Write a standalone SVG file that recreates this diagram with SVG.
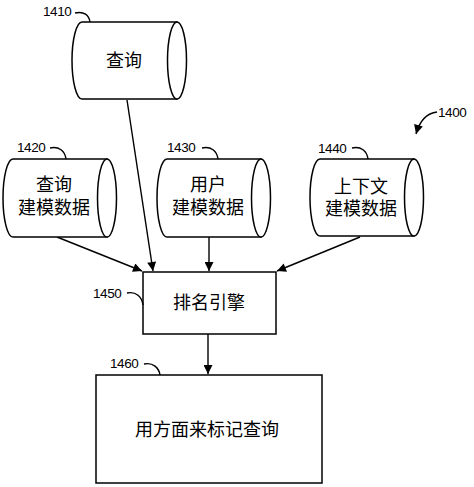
<svg xmlns="http://www.w3.org/2000/svg" width="474" height="487" viewBox="0 0 474 487">
<defs>
<style>
.s{fill:#fff;stroke:#000;stroke-width:1.5}
.l{fill:none;stroke:#000;stroke-width:1.4}
.c{fill:none;stroke:#000;stroke-width:1.4;marker-end:url(#ah)}
.n{font-family:"Liberation Sans",Arial,sans-serif;font-size:13.5px;fill:#000;letter-spacing:-0.4px}
.t{font-family:"Noto Sans CJK SC","Noto Sans",sans-serif;font-size:18px;fill:#000;text-anchor:middle}
</style>
<marker id="ah" viewBox="0 0 10 10" refX="10" refY="5" markerWidth="10" markerHeight="9" markerUnits="userSpaceOnUse" orient="auto">
<path d="M0,0 L10,5 L0,10 z" fill="#000"/>
</marker>
</defs>
<rect width="474" height="487" fill="#fff"/>
<g id="connectors">
<path class="c" d="M127,100 L153,271"/>
<path class="c" d="M57,237 L142,271"/>
<path class="c" d="M209,237 L209,271"/>
<path class="c" d="M360,237 L277,271"/>
<path class="c" d="M208,334 L208,374"/>
<path class="c" d="M437,112 C428,113 420,120 416,134"/>
</g>
<g id="n1410">
<path class="s" d="M82,22 L177,22 L177,99 L82,99 A10,38.5 0 0 1 82,22 Z"/>
<ellipse class="s" cx="177" cy="60.5" rx="9.5" ry="38.5"/>
<text class="t" x="124" y="67">查询</text>
<text class="n" x="43" y="16">1410</text>
<path class="l" d="M75,13 C84,11 89,15 90,22"/>
</g>
<g id="n1420">
<path class="s" d="M13,159 L107,159 L107,237 L13,237 A10,39 0 0 1 13,159 Z"/>
<ellipse class="s" cx="107" cy="198" rx="9.5" ry="39"/>
<text class="t" x="54" y="191">查询</text>
<text class="t" x="54" y="214">建模数据</text>
<text class="n" x="17" y="152">1420</text>
<path class="l" d="M50,148 C59,146 65,151 66,159"/>
</g>
<g id="n1430">
<path class="s" d="M167,159 L261,159 L261,237 L167,237 A10,39 0 0 1 167,159 Z"/>
<ellipse class="s" cx="261" cy="198" rx="9.5" ry="39"/>
<text class="t" x="208" y="191">用户</text>
<text class="t" x="208" y="214">建模数据</text>
<text class="n" x="167" y="152">1430</text>
<path class="l" d="M202,148 C211,146 217,151 218,159"/>
</g>
<g id="n1440">
<path class="s" d="M320,159 L414,159 L414,236 L320,236 A10,38.5 0 0 1 320,159 Z"/>
<ellipse class="s" cx="414" cy="197.5" rx="9.5" ry="38.5"/>
<text class="t" x="361" y="193">上下文</text>
<text class="t" x="361" y="215">建模数据</text>
<text class="n" x="318" y="153">1440</text>
<path class="l" d="M352,148 C361,146 367,151 368,159"/>
</g>
<g id="n1400">
<text class="n" x="438" y="117">1400</text>
</g>
<g id="n1450">
<rect class="s" x="143" y="272" width="133" height="62"/>
<text class="t" x="209" y="309">排名引擎</text>
<text class="n" x="93" y="298">1450</text>
<path class="l" d="M127,293 C136,291 142,297 143,305"/>
</g>
<g id="n1460">
<rect class="s" x="96" y="375" width="226" height="108"/>
<text class="t" x="207" y="436">用方面来标记查询</text>
<text class="n" x="110" y="368">1460</text>
<path class="l" d="M144,364 C153,362 159,368 160,375"/>
</g>
</svg>
